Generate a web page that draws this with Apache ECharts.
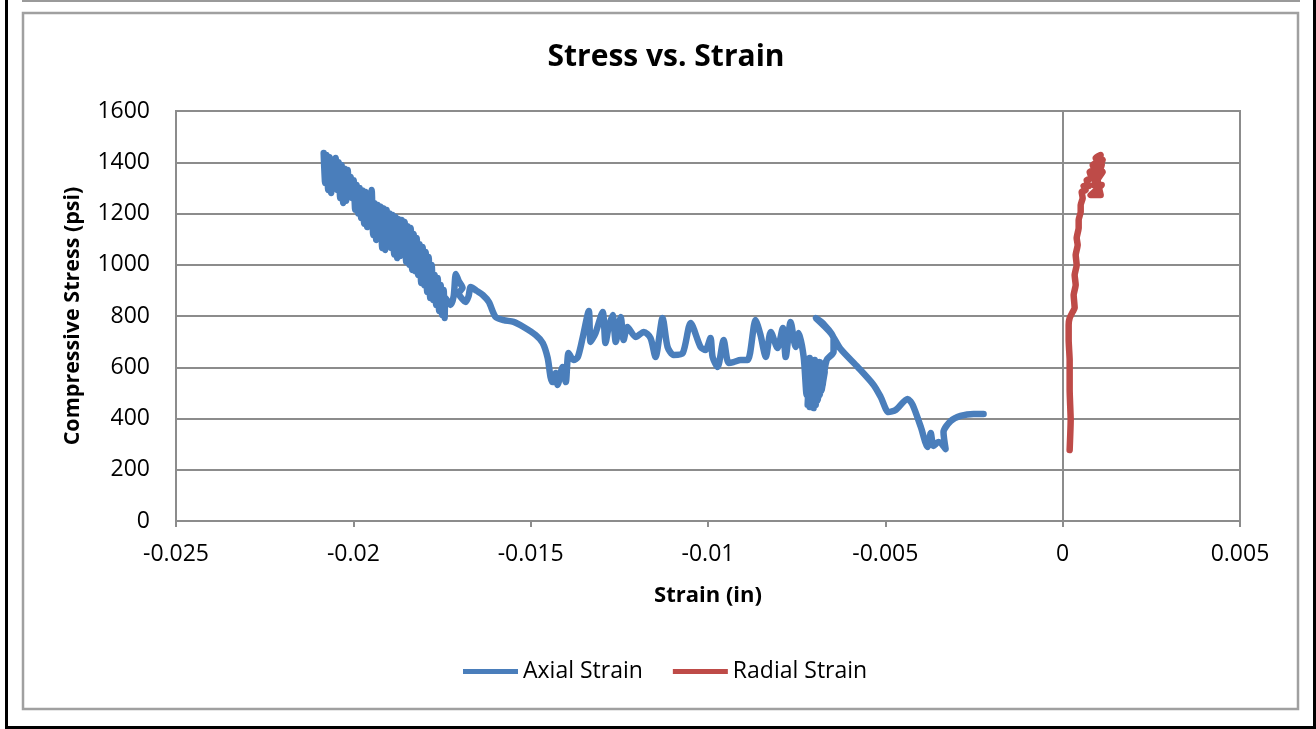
<!DOCTYPE html>
<html>
<head>
<meta charset="utf-8">
<script src="https://cdn.jsdelivr.net/npm/echarts@6/dist/echarts.min.js"></script>
<style>
html,body{margin:0;padding:0;background:#fff;}
#c{width:1316px;height:729px;}
</style>
</head>
<body>
<div id="c"></div>
<script>
const titleText = 'Stress vs. Strain';
const xTitle = 'Strain (in)';
const yTitle = 'Compressive Stress (psi)';
const seriesNames = ['Axial Strain', 'Radial Strain'];

const axialStrain = [
-0.020836,-0.020794,-0.020752,-0.020709,-0.020667,-0.020625,-0.020582,-0.020540,-0.020498,-0.020455,
-0.020413,-0.020371,-0.020329,-0.020286,-0.020244,-0.020202,-0.020159,-0.020117,-0.020075,-0.020033,
-0.019990,-0.019948,-0.019906,-0.019863,-0.019821,-0.019779,-0.019737,-0.019694,-0.019652,-0.019610,
-0.019567,-0.019525,-0.019483,-0.019440,-0.019398,-0.019356,-0.019314,-0.019271,-0.019229,-0.019187,
-0.019144,-0.019102,-0.019060,-0.019018,-0.018975,-0.018933,-0.018891,-0.018848,-0.018806,-0.018764,
-0.018721,-0.018679,-0.018637,-0.018595,-0.018552,-0.018510,-0.018468,-0.018425,-0.018383,-0.018341,
-0.018299,-0.018256,-0.018214,-0.018172,-0.018129,-0.018087,-0.018045,-0.018002,-0.017960,-0.017918,
-0.017876,-0.017833,-0.017791,-0.017749,-0.017706,-0.017664,-0.017622,-0.017580,-0.017537,-0.017495,
-0.017453,-0.017425,
-0.01740,-0.01726,-0.01717,-0.01711,-0.01703,-0.01692,-0.01703,-0.01683,-0.01675,-0.01669,
-0.01652,-0.01635,-0.01618,-0.01599,-0.01576,-0.01548,-0.01520,-0.01486,-0.01466,-0.01452,
-0.01444,-0.01438,-0.01429,-0.01424,-0.01410,-0.01401,-0.01393,-0.01379,-0.01367,-0.01353,
-0.01336,-0.01331,-0.01317,-0.01297,-0.01289,-0.01280,-0.01269,-0.01260,-0.01246,-0.01238,
-0.01227,-0.01204,-0.01181,-0.01162,-0.01148,-0.01128,-0.01114,-0.01097,-0.01071,-0.01049,
-0.01021,-0.01007,-0.00993,-0.00987,-0.00973,-0.00956,-0.00942,-0.00928,-0.00908,-0.00888,
-0.00866,-0.00852,-0.00837,-0.00823,-0.00804,-0.00789,-0.00781,-0.00767,-0.00753,-0.00744,
-0.007302,-0.007218,-0.007133,-0.007190,-0.007049,-0.007133,-0.006992,-0.007077,-0.006908,-0.007021,
-0.006851,-0.006964,-0.006795,-0.006908,-0.006739,-0.006851,-0.006710,-0.006795,-0.006682,-0.006767,
-0.006654,
-0.00646,-0.00646,-0.00677,-0.00696,-0.00654,-0.00626,-0.00578,-0.00533,-0.00513,-0.00491,
-0.00471,-0.00437,-0.00423,-0.00400,-0.00381,-0.00372,-0.00364,-0.00350,-0.00330,-0.00336,
-0.00316,-0.00288,-0.00251,-0.00223
];
const axialStress = [
1436,1319,1428,1292,1420,1280,1380,1300,1417,1292,
1400,1260,1389,1241,1375,1250,1370,1270,1342,1260,
1330,1215,1311,1200,1300,1182,1290,1160,1284,1147,
1260,1150,1292,1116,1240,1097,1233,1110,1226,1065,
1220,1058,1214,1080,1200,1065,1194,1040,1186,1026,
1178,1034,1175,1040,1167,1011,1150,1000,1143,980,
1120,975,1104,960,1080,929,1069,920,1050,894,
1030,870,999,862,960,843,948,820,921,804,
901,792,
870,843,878,964,937,909,890,855,878,913,
898,882,855,796,784,777,757,726,695,636,
562,542,578,531,601,542,656,628,640,718,
820,699,734,816,695,757,804,699,796,706,
757,718,738,714,640,792,679,648,656,773,
679,667,714,640,601,706,617,620,628,628,
784,726,640,738,675,753,640,777,679,734,
640,492,636,453,620,445,628,460,609,441,
620,453,597,472,609,492,581,511,620,531,
628,
660,714,773,792,734,671,601,531,484,425,
433,476,453,367,289,343,293,308,281,347,
390,410,418,418
];

const radialStrain = [
0.000197,0.000226,0.000197,0.000197,0.000169,0.000169,0.000197,0.000282,0.000338,0.000310,
0.000367,0.000338,0.000395,0.000367,0.000423,0.000395,0.000451,0.000451,0.000508,0.000508,
0.000564,0.000536,0.000648,0.000592,0.000733,0.000677,0.000818,0.000761,0.000902,0.000846,
0.000987,0.000930,0.001071,0.000959,0.001128,0.000930,0.001128,0.000874,0.001100,0.000789,
0.001071,0.000987,0.001100
];
const radialStress = [
277,394,511,628,706,765,792,816,831,882,
921,960,999,1038,1077,1104,1143,1175,1206,1233,
1260,1284,1292,1307,1307,1331,1338,1362,1370,1389,
1401,1417,1428,1389,1409,1350,1362,1311,1311,1272,
1272,1331,1389
];

const xMin = -0.025, xMax = 0.005, xStep = 0.005;
const yMin = 0, yMax = 1600, yStep = 200;

const axialData = axialStrain.map((v, i) => [v, axialStress[i]]);
const radialData = radialStrain.map((v, i) => [v, radialStress[i]]);

const FONT = 'Open Sans';
const chart = echarts.init(document.getElementById('c'), null, {renderer: 'canvas'});
chart.setOption({
  backgroundColor: '#ffffff',
  animation: false,
  textStyle: {fontFamily: FONT},
  title: {
    text: titleText,
    left: 661, top: 37, textAlign: 'center',
    textStyle: {fontFamily: FONT, fontSize: 30, fontWeight: 'bold', color: '#000'}
  },
  legend: {
    data: seriesNames,
    left: 458, top: 655,
    itemWidth: 55, itemHeight: 14, itemGap: 30,
    icon: 'path://M0,0 L55,0 L55,5 L0,5 Z',
    textStyle: {fontFamily: FONT, fontSize: 23, color: '#000'}
  },
  grid: {
    left: 176, top: 111, width: 1064, height: 410,
    show: true, borderColor: '#8c8c8c', borderWidth: 2, backgroundColor: 'transparent'
  },
  xAxis: {
    type: 'value', min: xMin, max: xMax, interval: xStep,
    name: xTitle, nameLocation: 'middle', nameGap: 64,
    nameTextStyle: {fontFamily: FONT, fontSize: 22, fontWeight: 'bold', color: '#000'},
    axisLine: {show: true, onZero: false, lineStyle: {color: '#8c8c8c', width: 2}},
    axisTick: {show: true, length: 6, lineStyle: {color: '#8c8c8c', width: 2}},
    axisLabel: {margin: 22, fontFamily: FONT, fontSize: 23, color: '#000',
      formatter: v => String(Math.round(v * 1000) / 1000)},
    splitLine: {show: false}
  },
  yAxis: {
    type: 'value', min: yMin, max: yMax, interval: yStep,
    name: yTitle, nameLocation: 'middle', nameGap: 92,
    nameTextStyle: {fontFamily: FONT, fontSize: 21.5, fontWeight: 'bold', color: '#000'},
    axisLine: {show: false},
    axisTick: {show: false},
    axisLabel: {margin: 26, fontFamily: FONT, fontSize: 23, color: '#000',
      formatter: v => String(v)},
    splitLine: {show: true, lineStyle: {color: '#8c8c8c', width: 2}}
  },
  series: [
    {
      name: seriesNames[0], type: 'line', data: axialData,
      showSymbol: false, symbol: 'none', smooth: 0.25,
      lineStyle: {color: '#4a7ebb', width: 6.5, cap: 'round', join: 'round'},
      itemStyle: {color: '#4a7ebb'},
      z: 3,
      markLine: {
        silent: true, symbol: ['none', 'none'], label: {show: false},
        lineStyle: {color: '#8c8c8c', width: 2, type: 'solid'},
        data: [{xAxis: 0}],
        z: 1
      }
    },
    {
      name: seriesNames[1], type: 'line', data: radialData,
      showSymbol: false, symbol: 'none', smooth: 0.15,
      lineStyle: {color: '#be4b48', width: 6.5, cap: 'round', join: 'round'},
      itemStyle: {color: '#be4b48'},
      z: 4
    }
  ],
  graphic: [
    {type: 'line', shape: {x1: 22, y1: 1, x2: 1300, y2: 1}, style: {stroke: '#9a9a9a', lineWidth: 2}, silent: true},
    {type: 'rect', shape: {x: 23, y: 13, width: 1275, height: 696}, style: {fill: 'none', stroke: '#a0a0a0', lineWidth: 2.5}, silent: true, z: -1},
    {type: 'line', shape: {x1: 6.5, y1: 0, x2: 6.5, y2: 729}, style: {stroke: '#000', lineWidth: 3}, silent: true},
    {type: 'line', shape: {x1: 5, y1: 727.5, x2: 1316, y2: 727.5}, style: {stroke: '#000', lineWidth: 3}, silent: true},
    {type: 'line', shape: {x1: 1314.5, y1: 0, x2: 1314.5, y2: 729}, style: {stroke: '#000', lineWidth: 3}, silent: true}
  ]
});
</script>
</body>
</html>
